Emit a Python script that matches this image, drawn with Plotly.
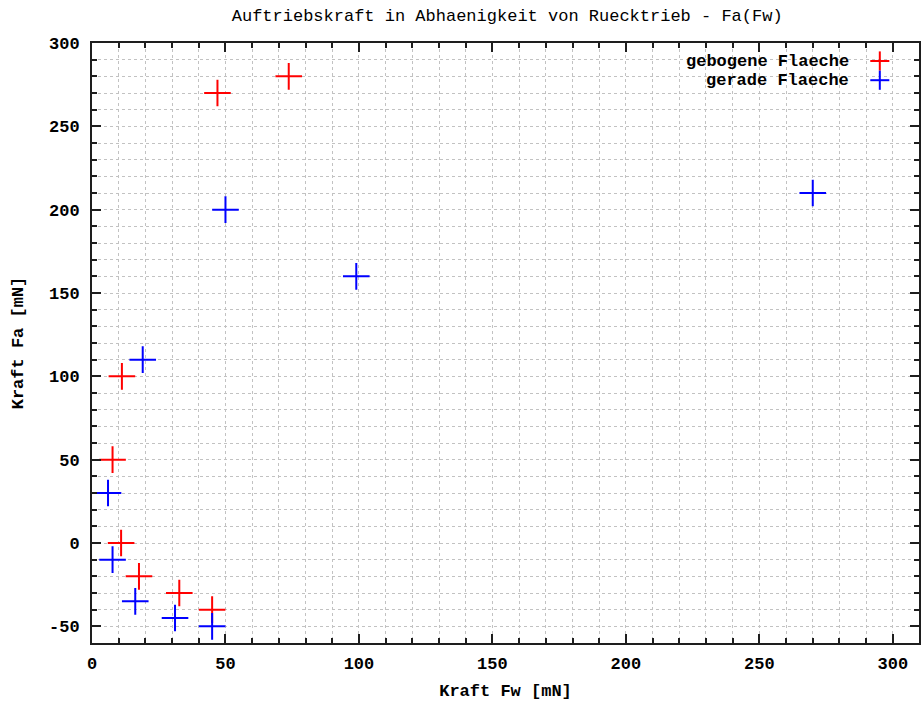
import plotly.graph_objects as go

# Measured forces: drag Fw vs. lift Fa, both in mN
gebogene_fw = [73.7, 47.0, 11.2, 7.7, 10.9, 17.6, 32.7, 45.0]
gebogene_fa = [280, 270, 100, 50, 0, -20, -30, -40]

gerade_fw = [270.0, 50.0, 99.0, 19.0, 6.0, 7.7, 16.2, 31.1, 45.0]
gerade_fa = [210, 200, 160, 110, 30, -10, -35, -45, -50]

series_names = ["gebogene Flaeche", "gerade Flaeche"]
series_colors = ["#ff0000", "#0000ff"]

x_ticks = [0, 50, 100, 150, 200, 250, 300]
y_ticks = [-50, 0, 50, 100, 150, 200, 250, 300]

FONT = "Liberation Mono, DejaVu Sans Mono, monospace"
GRID = "#c2c2c2"

fig = go.Figure()
for name, xs, ys, col in zip(series_names,
                             [gebogene_fw, gerade_fw],
                             [gebogene_fa, gerade_fa],
                             series_colors):
    fig.add_trace(go.Scatter(
        x=xs, y=ys, mode="markers", name=name, showlegend=False,
        marker=dict(symbol="cross-thin", size=19, color=col,
                    line=dict(color=col, width=2)),
    ))

axis_common = dict(
    showline=True, linecolor="#1e1e1e", linewidth=2, mirror="allticks",
    ticks="inside", ticklen=9, tickwidth=1.5, tickcolor="#1e1e1e",
    showgrid=True, gridcolor=GRID, gridwidth=1, griddash="3px,3px",
    zeroline=False,
    tickfont=dict(family=FONT, size=17, color="#000000", weight="bold"),
    title_font=dict(family=FONT, size=17, color="#000000", weight="bold"),
)

fig.update_xaxes(
    range=[0, 309.8], tickvals=x_ticks, ticktext=[str(v) for v in x_ticks],
    minor=dict(dtick=10, tick0=0, ticks="inside", ticklen=5, tickcolor="#1e1e1e",
               showgrid=True, gridcolor=GRID, griddash="3px,3px"),
    ticklabelstandoff=4,
    title=dict(text="Kraft Fw [mN]", standoff=12),
    **axis_common,
)
fig.update_yaxes(
    range=[-60, 300], tickvals=y_ticks, ticktext=[str(v) for v in y_ticks],
    minor=dict(dtick=10, tick0=0, ticks="inside", ticklen=5, tickcolor="#1e1e1e",
               showgrid=True, gridcolor=GRID, griddash="3px,3px"),
    ticklabelstandoff=7,
    title=dict(text="Kraft Fa [mN]", standoff=21),
    **axis_common,
)

# Key in the upper right corner: label text followed by a sample cross
legend_rows = [0.970, 0.938]
key_x = 0.9526
key_half_w = 0.0115
key_half_h = 0.016
for name, col, yp in zip(series_names, series_colors, legend_rows):
    fig.add_annotation(
        xref="paper", yref="paper", x=0.918, y=yp, text=name, showarrow=False,
        xanchor="right", yanchor="middle",
        font=dict(family=FONT, size=17, color="#000000", weight="bold"),
    )
    fig.add_shape(type="line", xref="paper", yref="paper",
                  x0=key_x - key_half_w, x1=key_x + key_half_w, y0=yp, y1=yp,
                  line=dict(color=col, width=2))
    fig.add_shape(type="line", xref="paper", yref="paper",
                  x0=key_x, x1=key_x, y0=yp - key_half_h, y1=yp + key_half_h,
                  line=dict(color=col, width=2))

fig.update_layout(
    width=923, height=701,
    margin=dict(l=92, r=2, t=43, b=58),
    paper_bgcolor="white", plot_bgcolor="white",
    title=dict(text="Auftriebskraft in Abhaenigkeit von Ruecktrieb - Fa(Fw)",
               x=0.5495, xanchor="center", y=0.979, yanchor="middle",
               font=dict(family=FONT, size=17, color="#000000")),
)

fig.write_html("out.html")
